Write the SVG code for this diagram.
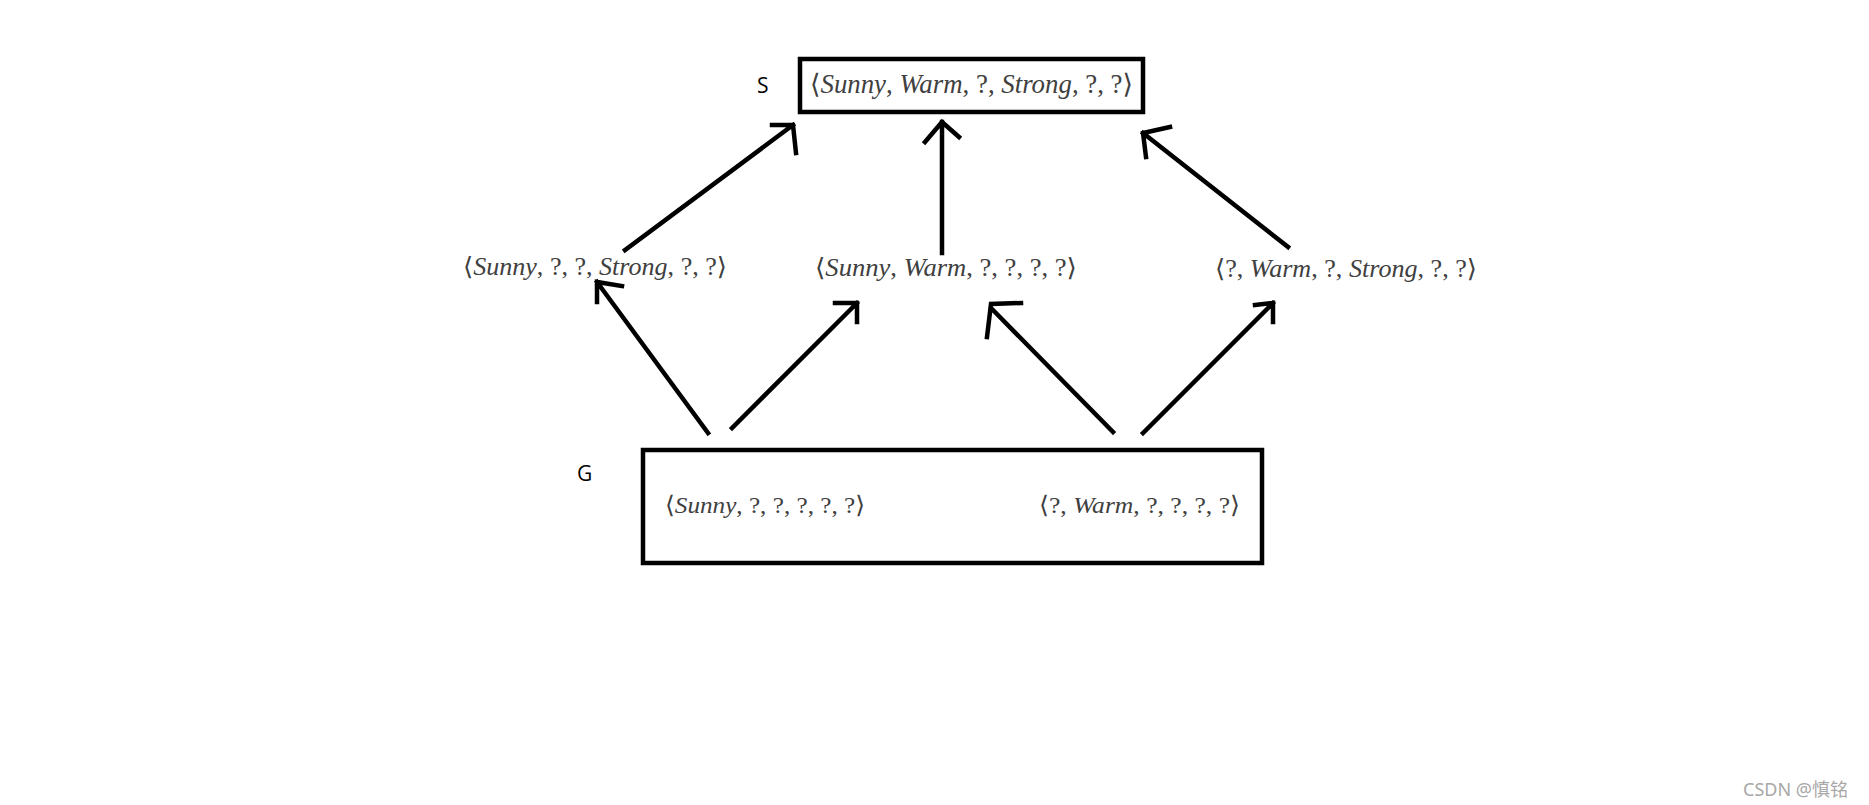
<svg xmlns="http://www.w3.org/2000/svg" width="1869" height="805" viewBox="0 0 1869 805">
<style>
.box{fill:none;stroke:#000;stroke-width:4.5}
.lbl{font-family:"Open Sans","Liberation Sans",sans-serif;font-size:21px;fill:#000}
.m{font-family:"Liberation Serif","DejaVu Serif",serif;fill:#404040}
.i{font-style:italic}
.c{fill:none;stroke:#000;stroke-width:4.5;stroke-linecap:square;stroke-linejoin:miter}
.wm{font-family:"Noto Sans","Noto Sans CJK SC",sans-serif;font-size:18px;fill:#a8a8a8}
</style>
<rect width="1869" height="805" fill="#fff"/>
<g id="S">
<rect class="box" x="800" y="59" width="343" height="53"/>
<text class="lbl" x="757" y="93">S</text>
<text class="m" x="810" y="93" font-size="27" textLength="323" lengthAdjust="spacingAndGlyphs">⟨<tspan class="i">Sunny</tspan>, <tspan class="i">Warm</tspan>, ?, <tspan class="i">Strong</tspan>, ?, ?⟩</text>
</g>
<g id="n1">
<text class="m" x="463" y="275" font-size="25" textLength="264" lengthAdjust="spacingAndGlyphs">⟨<tspan class="i">Sunny</tspan>, ?, ?, <tspan class="i">Strong</tspan>, ?, ?⟩</text>
</g>
<g id="n2">
<text class="m" x="815" y="276" font-size="25" textLength="262" lengthAdjust="spacingAndGlyphs">⟨<tspan class="i">Sunny</tspan>, <tspan class="i">Warm</tspan>, ?, ?, ?, ?⟩</text>
</g>
<g id="n3">
<text class="m" x="1215" y="277" font-size="25" textLength="262" lengthAdjust="spacingAndGlyphs">⟨?, <tspan class="i">Warm</tspan>, ?, <tspan class="i">Strong</tspan>, ?, ?⟩</text>
</g>
<g id="G">
<rect class="box" x="643" y="450" width="619" height="113"/>
<text class="lbl" x="577" y="481">G</text>
<text class="m" x="665" y="513" font-size="24" textLength="200" lengthAdjust="spacingAndGlyphs">⟨<tspan class="i">Sunny</tspan>, ?, ?, ?, ?, ?⟩</text>
<text class="m" x="1039" y="513" font-size="24" textLength="201" lengthAdjust="spacingAndGlyphs">⟨?, <tspan class="i">Warm</tspan>, ?, ?, ?, ?⟩</text>
</g>
<g id="connectors">
<path class="c" d="M625 250 L793 125 M772 125 L793 125 L796 153"/>
<path class="c" d="M942 253 L942 122 M925 142 L942 122 L959 137"/>
<path class="c" d="M1288 247 L1143 133 M1170 127 L1143 133 L1146 157"/>
<path class="c" d="M708 433 L597 282 M622 286 L597 282 L597 302"/>
<path class="c" d="M732 428 L857 303 M835 303 L857 303 L857 322"/>
<path class="c" d="M1113 432 L991 308 M1021 303 L991 304 L987 337"/>
<path class="c" d="M1143 433 L1273 303 M1255 305 L1273 303 L1273 322"/>
</g>
<text class="wm" x="1743" y="796">CSDN @慎铭</text>
</svg>
